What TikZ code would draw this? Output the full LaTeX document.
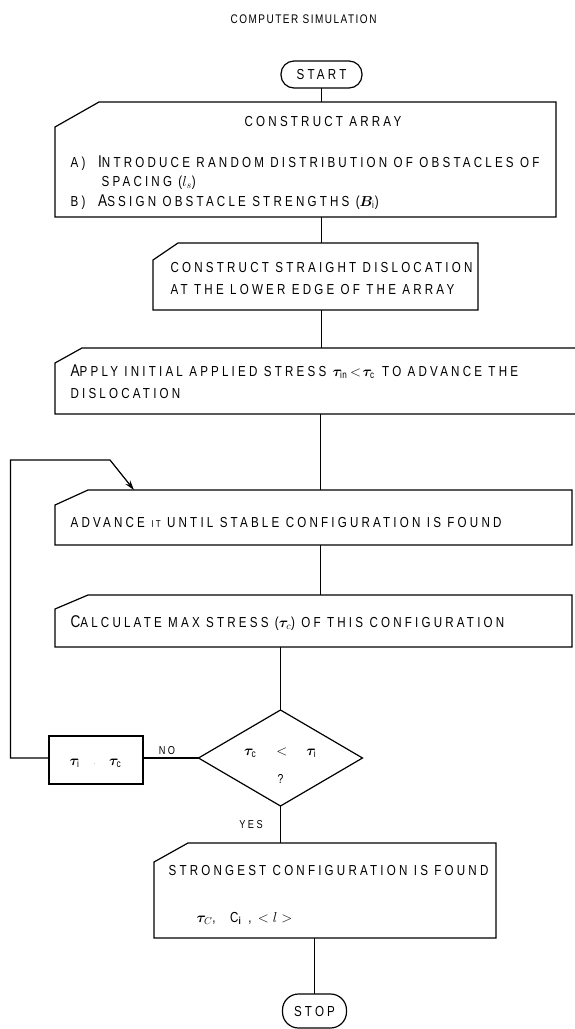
\documentclass[tikz,border=0pt]{standalone}
\usepackage{fontspec}
\usepackage{bm}
\setmainfont[FakeStretch=0.8,LetterSpace=22]{Liberation Sans}
\newfontfamily\titlefont[FakeStretch=0.8,LetterSpace=12]{Liberation Sans}
\usetikzlibrary{shapes.geometric,arrows.meta}
\newcommand\Ini[1]{{\fontsize{17}{17}\selectfont #1}}
\newcommand\cutbox[3]{\draw ([yshift=-#3pt]#1.north west) -- ([xshift=#2pt]#1.north west) -- (#1.north east) -- (#1.south east) -- (#1.south west) -- cycle;}
\begin{document}
\begin{tikzpicture}[x=1pt,y=-1pt,line width=1.2pt,
  frame/.style={draw=none,inner sep=0pt,outer sep=0pt},
  term/.style={draw,rounded corners=13pt,inner sep=0pt,outer sep=0pt,font=\fontsize{14.5}{14.5}\selectfont},
  txt/.style={anchor=base west,inner sep=0pt,font=\fontsize{14.5}{14.5}\selectfont},
  ctxt/.style={anchor=base,inner sep=0pt,font=\fontsize{14.5}{14.5}\selectfont},
  lbl/.style={anchor=base,inner sep=0pt,font=\fontsize{11.5}{11.5}\selectfont},
  tip/.style={-{Stealth[length=10pt,width=6pt]}}]
\useasboundingbox (0,0) rectangle (574,1029);

% title
\node[anchor=base west,inner sep=0pt,font=\titlefont\fontsize{12.5}{12.5}\selectfont] (title) at (230,23) {COMPUTER SIMULATION};

% terminals
\node[term,minimum width=81pt,minimum height=27pt] (start) at (321.5,74.5) {START};
\node[term,rounded corners=16pt,minimum width=64pt,minimum height=34pt] (stop) at (314.5,1011) {STOP};

% boxes
\node[frame,minimum width=501pt,minimum height=115pt] (arr) at (305.5,159.5) {};
\cutbox{arr}{44}{25}
\node[ctxt] (arrT) at (323,126) {CONSTRUCT ARRAY};
\node[txt] (arrA) at (70,167) {A)\ \ \Ini{I}NTRODUCE RANDOM DISTRIBUTION OF OBSTACLES OF};
\node[txt] (arrS) at (101,186) {SPACING ($l_{s}$)};
\node[txt] (arrB) at (70,206) {B)\ \ \Ini{A}SSIGN OBSTACLE STRENGTHS ($\bm{B}_{\mathrm{i}}$)};

\node[frame,minimum width=325pt,minimum height=67pt] (dis) at (315.5,276.5) {};
\cutbox{dis}{25}{17}
\node[txt] (disA) at (170,272) {CONSTRUCT STRAIGHT DISLOCATION};
\node[txt] (disB) at (170,294) {AT THE LOWER EDGE OF THE ARRAY};

\node[frame,minimum width=540pt,minimum height=66pt] (app) at (325,381) {};
\cutbox{app}{27}{15}
\node[txt] (appA) at (70,376) {\Ini{A}PPLY INITIAL APPLIED STRESS $\bm{\tau}_{\mathrm{in}}\!<\!\bm{\tau}_{\mathrm{c}}$ TO ADVANCE THE};
\node[txt] (appB) at (70,398) {DISLOCATION};

\node[frame,minimum width=517pt,minimum height=55pt] (adv) at (313.5,517.5) {};
\cutbox{adv}{33}{15}
\node[txt] (advT) at (70,527) {ADVANCE {\fontsize{10}{10}\selectfont IT} UNTIL STABLE CONFIGURATION IS FOUND};

\node[frame,minimum width=517pt,minimum height=52pt] (calc) at (313.5,621) {};
\cutbox{calc}{33}{14}
\node[txt] (calcT) at (70,627) {\Ini{C}ALCULATE MAX STRESS ($\bm{\tau}_{c}$) OF THIS CONFIGURATION};

\node[draw,diamond,inner sep=0pt,outer sep=0pt,minimum width=164pt,minimum height=96pt] (dia) at (280.5,758) {};
\node[anchor=base,inner sep=0pt,font=\fontsize{15}{15}\selectfont] (diaA) at (280.5,755) {$\bm{\tau}_{\mathrm{c}}\quad<\quad\bm{\tau}_{\mathrm{i}}$};
\node[lbl,font=\fontsize{13}{13}\selectfont] (diaB) at (280.5,783) {?};

\node[draw,inner sep=0pt,outer sep=0pt,minimum width=94pt,minimum height=48pt] (tb) at (96,760) {};
\node[anchor=base,inner sep=0pt,font=\fontsize{15}{15}\selectfont] (tbT) at (96,765) {$\bm{\tau}_{\mathrm{i}}$\hspace{14pt}{\tiny\textperiodcentered}\hspace{14pt}$\bm{\tau}_{\mathrm{c}}$};

\node[frame,minimum width=342pt,minimum height=95pt] (str) at (325,890.5) {};
\cutbox{str}{34}{19}
\node[txt] (strA) at (168,875) {STRONGEST CONFIGURATION IS FOUND};
\node[txt] (strB) at (196,922) {$\bm{\tau}_{C}$,\quad C$_{\mathbf{i}}$ , $<l>$};

% labels
\node[lbl] (no) at (167,754) {NO};
\node[lbl] (yes) at (251,828) {YES};

% connectors
\draw (start.south) -- (start.south |- arr.north);
\draw (arr.south -| start.south) -- (dis.north -| start.south);
\draw (dis.south -| start.south) -- (app.north -| start.south);
\draw (app.south -| 320.5,0) -- (adv.north -| 320.5,0);
\draw (adv.south -| 320.5,0) -- (calc.north -| 320.5,0);
\draw (calc.south -| dia.north) -- (dia.north);
\draw (dia.south) -- (dia.south |- str.north);
\draw (str.south -| stop.north) -- (stop.north);
\draw (dia.west) -- (tb.east |- dia.west);
\coordinate (lx) at (10.5,460);
\coordinate (bend) at (110,460);
\coordinate (tgt) at (134,490);
\draw[tip] (tb.west |- dia.west) -- (lx |- dia.west) -- (lx) -- (bend) -- (tgt);
\end{tikzpicture}
\end{document}
